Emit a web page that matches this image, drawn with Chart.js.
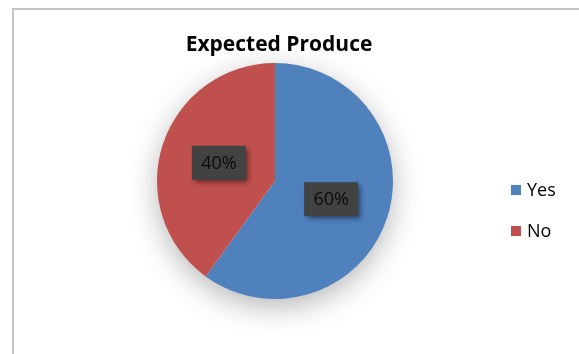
<!DOCTYPE html>
<html><head><meta charset="utf-8">
<script src="https://cdn.jsdelivr.net/npm/chart.js@4"></script>
<style>html,body{margin:0;padding:0;background:#fff;}#wrap{position:relative;width:579px;height:354px;}</style>
</head><body><div id="wrap"><canvas id="c" width="579" height="354"></canvas></div>
<script>
const categories = ["Yes", "No"];
const values = [60, 40];
const colors = ["#4F81BD", "#C0504D"];
const chartTitle = "Expected Produce";

const FONT = "'Open Sans', 'Liberation Sans', sans-serif";

const decor = {
  id: 'decor',
  beforeDraw(chart) {
    const ctx = chart.ctx;
    ctx.save();
    ctx.fillStyle = '#fff';
    ctx.fillRect(0, 0, chart.width, chart.height);
    ctx.strokeStyle = '#c4c4c4';
    ctx.lineWidth = 2;
    ctx.beginPath();
    ctx.moveTo(13, chart.height);
    ctx.lineTo(13, 9);
    ctx.lineTo(chart.width, 9);
    ctx.stroke();
    ctx.fillStyle = '#000';
    ctx.font = "bold 21px " + FONT;
    ctx.textAlign = 'center';
    ctx.textBaseline = 'alphabetic';
    ctx.fillText(chartTitle, 279, 51);
    ctx.restore();
  },
  beforeDatasetsDraw(chart) {
    const meta = chart.getDatasetMeta(0);
    const a = meta.data[0];
    if (!a) return;
    const ctx = chart.ctx;
    ctx.save();
    ctx.shadowColor = 'rgba(0,0,0,0.3)';
    ctx.shadowBlur = 30;
    ctx.shadowOffsetY = 8;
    ctx.fillStyle = '#fff';
    ctx.beginPath();
    ctx.arc(a.x, a.y, a.outerRadius - 1, 0, Math.PI * 2);
    ctx.fill();
    ctx.restore();
  },
  afterDatasetsDraw(chart) {
    const ctx = chart.ctx;
    const meta = chart.getDatasetMeta(0);
    const total = values.reduce((s, v) => s + v, 0);
    meta.data.forEach((arc, i) => {
      const p = arc.tooltipPosition();
      const w = 54, h = 34;
      ctx.save();
      ctx.shadowColor = 'rgba(0,0,0,0.45)';
      ctx.shadowBlur = 5;
      ctx.shadowOffsetX = 3;
      ctx.shadowOffsetY = 3;
      ctx.fillStyle = '#424242';
      ctx.fillRect(p.x - w / 2, p.y - h / 2, w, h);
      ctx.restore();
      ctx.save();
      ctx.fillStyle = '#0a0a0a';
      ctx.font = "18px " + FONT;
      ctx.textAlign = 'center';
      ctx.textBaseline = 'middle';
      ctx.fillText(Math.round(values[i] / total * 100) + '%', p.x, p.y + 1);
      ctx.restore();
    });
    ctx.save();
    ctx.font = "18px " + FONT;
    ctx.textBaseline = 'middle';
    ctx.textAlign = 'left';
    categories.forEach((lab, i) => {
      const y = 190 + i * 41;
      ctx.fillStyle = colors[i];
      ctx.fillRect(511, y - 5, 10, 10);
      ctx.fillStyle = '#000';
      ctx.fillText(lab, 527, y + 1);
    });
    ctx.restore();
  }
};

new Chart(document.getElementById('c'), {
  type: 'pie',
  data: {
    labels: categories,
    datasets: [{ data: values, backgroundColor: colors, borderWidth: 0, hoverOffset: 0 }]
  },
  options: {
    responsive: false,
    animation: false,
    layout: { padding: { top: 63, bottom: 55, left: 157, right: 186 } },
    plugins: { legend: { display: false }, tooltip: { enabled: false }, title: { display: false } }
  },
  plugins: [decor]
});
</script></body></html>
